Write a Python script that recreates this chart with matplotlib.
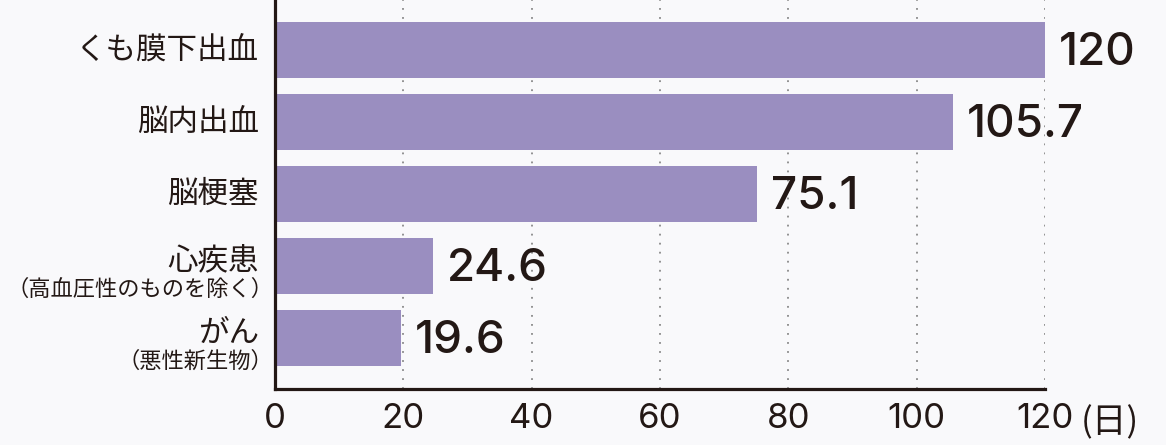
import matplotlib
matplotlib.use("Agg")
import matplotlib.pyplot as plt

plt.rcParams['font.family'] = ['Noto Sans CJK JP', 'DejaVu Sans']
NUMFONT = ['Inter', 'Noto Sans CJK JP']

categories = ["くも膜下出血", "脳内出血", "脳梗塞", "心疾患", "がん"]
subtitles = ["", "", "", "（高血圧性のものを除く）", "（悪性新生物）"]
values = [120, 105.7, 75.1, 24.6, 19.6]
value_labels = ["120", "105.7", "75.1", "24.6", "19.6"]
xticks = [0, 20, 40, 60, 80, 100, 120]
unit_label = "(日)"

BG = "#f9f9fb"
BAR = "#9a8ec0"
INK = "#231815"

fig = plt.figure(figsize=(11.66, 4.45), dpi=100, facecolor=BG)
ax = fig.add_axes([275/1166, 1-389/445, 770/1166, 389/445])
ax.set_facecolor(BG)

ypos = list(range(len(categories)))
ax.barh(ypos, values, height=0.78, color=BAR, zorder=2)

ax.set_xlim(0, 120)
ax.set_ylim(4.708, -0.694)

ax.set_xticks(xticks)
ax.set_xticklabels([str(t) for t in xticks], fontsize=25, color=INK,
                   family=NUMFONT, fontweight='normal')
ax.tick_params(axis='x', length=0, pad=10)
ax.set_yticks([])

for s in ['top', 'right']:
    ax.spines[s].set_visible(False)
for s in ['left', 'bottom']:
    ax.spines[s].set_linewidth(2.3)
    ax.spines[s].set_color(INK)
    ax.spines[s].set_zorder(4)

ax.grid(axis='x', linestyle=(0, (1, 4)), color='#8a8a8a', linewidth=1.3, zorder=0)
ax.set_axisbelow(True)

# value labels
for y, v, lab in zip(ypos, values, value_labels):
    ax.annotate(lab, xy=(v, y), xytext=(14, -3), textcoords='offset pixels',
                ha='left', va='center', fontsize=33, color=INK, zorder=5,
                family=NUMFONT, fontweight='medium')

# category labels
for y, c, sub in zip(ypos, categories, subtitles):
    if sub:
        ax.annotate(c, xy=(0, y), xytext=(-16, 5), textcoords='offset pixels',
                    ha='right', va='center', fontsize=22, color=INK,
                    annotation_clip=False)
        ax.annotate(sub, xy=(0, y), xytext=(-2, -23), textcoords='offset pixels',
                    ha='right', va='center', fontsize=16, color=INK,
                    annotation_clip=False)
    else:
        ax.annotate(c, xy=(0, y), xytext=(-16, 0), textcoords='offset pixels',
                    ha='right', va='center', fontsize=22, color=INK,
                    annotation_clip=False)

# unit label
ax.annotate(unit_label, xy=(120, 0), xycoords=('data', 'axes fraction'),
            xytext=(36, -43), textcoords='offset pixels',
            ha='left', va='baseline', fontsize=25, color=INK, annotation_clip=False)

fig.savefig("out.png", dpi=100, facecolor=BG)
